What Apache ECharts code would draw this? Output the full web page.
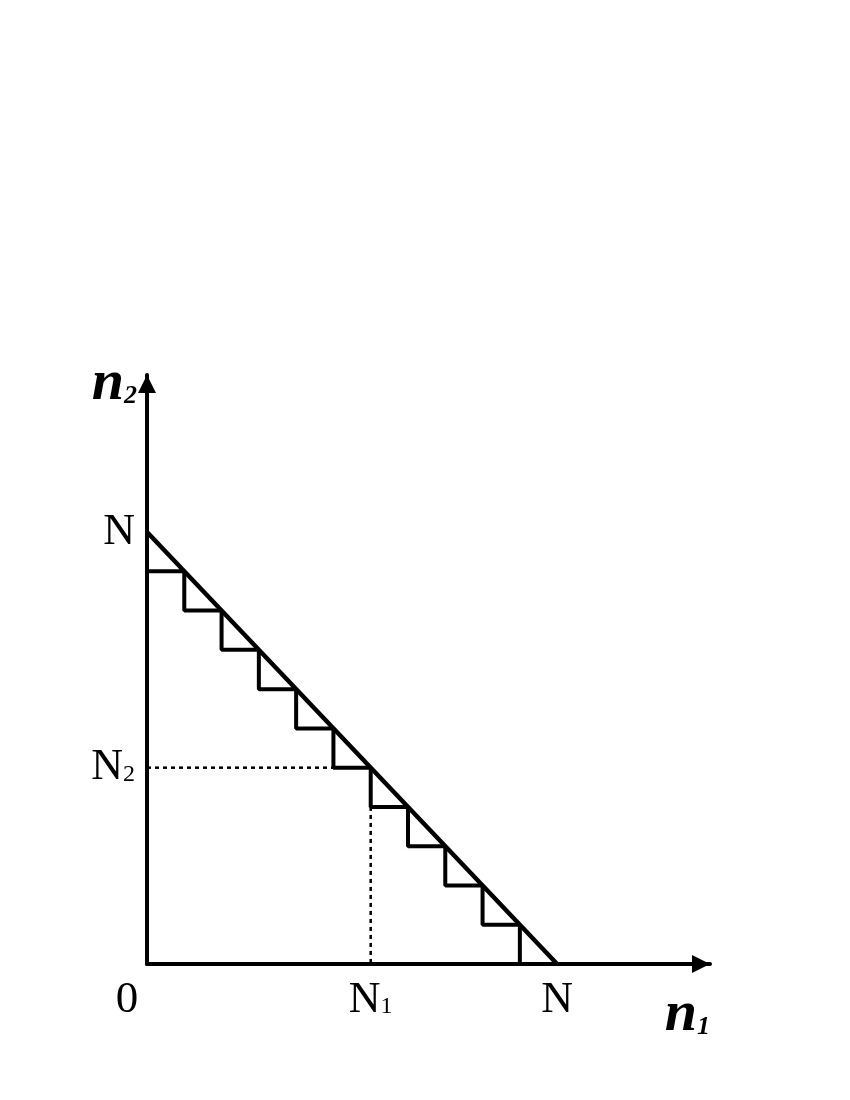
<!DOCTYPE html>
<html>
<head>
<meta charset="utf-8">
<script src="https://cdn.jsdelivr.net/npm/echarts@6/dist/echarts.min.js"></script>
<style>html,body{margin:0;padding:0;background:#fff;}#c{width:850px;height:1100px;}</style>
</head>
<body>
<div id="c"></div>
<script>
// values (axis units: one stair step = 1)
var N = 11, N1 = 6, N2 = 5;
var diagonal = [[0, 11], [11, 0]];
var stairX = [0, 1, 2, 3, 4, 5, 6, 7, 8, 9, 10];
var stairY = [10, 9, 8, 7, 6, 5, 4, 3, 2, 1, 0];
var dottedH = [[0, 5], [5, 5]];
var dottedV = [[6, 4], [6, 0]];
var xTickValues = [0, 6, 11];
var xTickLabels = ['{z|0}', '{a|N}{s|1}', '{a|N}'];
var yTickValues = [5, 11];
var yTickLabels = ['{a|N}{s|2}', '{a|N}'];

var stair = stairX.map(function (x, i) { return [x, stairY[i]]; });
var serif = '"Liberation Serif", "Times New Roman", serif';
var richLab = {
  a: { fontSize: 44, fontFamily: serif, color: '#000', verticalAlign: 'bottom' },
  s: { fontSize: 24, fontFamily: serif, color: '#000', verticalAlign: 'bottom', padding: [0, 0, 3, 0] },
  z: { fontSize: 45, fontFamily: serif, color: '#000', padding: [0, 40, 0, 0] }
};
var richName = {
  n: { fontSize: 58, fontFamily: serif, fontStyle: 'italic', fontWeight: 'bold', color: '#000', verticalAlign: 'bottom' },
  s: { fontSize: 26, fontFamily: serif, fontStyle: 'italic', fontWeight: 'bold', color: '#000', verticalAlign: 'bottom', padding: [0, 0, 4, 0] }
};

var chart = echarts.init(document.getElementById('c'), null, { renderer: 'canvas' });
chart.setOption({
  backgroundColor: '#fff',
  animation: false,
  grid: { left: 147, right: 140, top: 375, bottom: 136, containLabel: false },
  xAxis: {
    type: 'value', min: 0, max: 15.1,
    name: '{n|n}{s|1}', nameLocation: 'end', nameGap: 0,
    nameTextStyle: { align: 'right', verticalAlign: 'top', padding: [22, 0, 0, 0], rich: richName },
    axisLine: { show: true, onZero: false, symbol: ['none', 'triangle'], symbolSize: [18, 18], symbolOffset: [0, -9], lineStyle: { color: '#000', width: 4 } },
    axisTick: { show: false },
    splitLine: { show: false },
    axisLabel: {
      show: true, margin: 14, customValues: xTickValues,
      formatter: function (v) { return xTickLabels[xTickValues.indexOf(v)]; },
      rich: richLab
    }
  },
  yAxis: {
    type: 'value', min: 0, max: 15.0,
    name: '{n|n}{s|2}', nameLocation: 'end', nameGap: -38,
    nameTextStyle: { align: 'right', verticalAlign: 'bottom', padding: [0, 10, 0, 0], rich: richName },
    axisLine: { show: true, onZero: false, symbol: ['none', 'triangle'], symbolSize: [18, 18], symbolOffset: [0, -9], lineStyle: { color: '#000', width: 4 } },
    axisTick: { show: false },
    splitLine: { show: false },
    axisLabel: {
      show: true, margin: 12, customValues: yTickValues,
      formatter: function (v) { return yTickLabels[yTickValues.indexOf(v)]; },
      rich: richLab
    }
  },
  series: [
    { type: 'line', data: dottedH, symbol: 'none', silent: true, lineStyle: { color: '#000', width: 2.5, type: [4, 4] }, z: 2 },
    { type: 'line', data: dottedV, symbol: 'none', silent: true, lineStyle: { color: '#000', width: 2.5, type: [4, 4] }, z: 2 },
    { type: 'line', data: stair, step: 'end', symbol: 'none', silent: true, lineStyle: { color: '#000', width: 4 }, z: 3 },
    { type: 'line', data: diagonal, symbol: 'none', silent: true, lineStyle: { color: '#000', width: 4.5 }, z: 4 }
  ]
});
</script>
</body>
</html>
